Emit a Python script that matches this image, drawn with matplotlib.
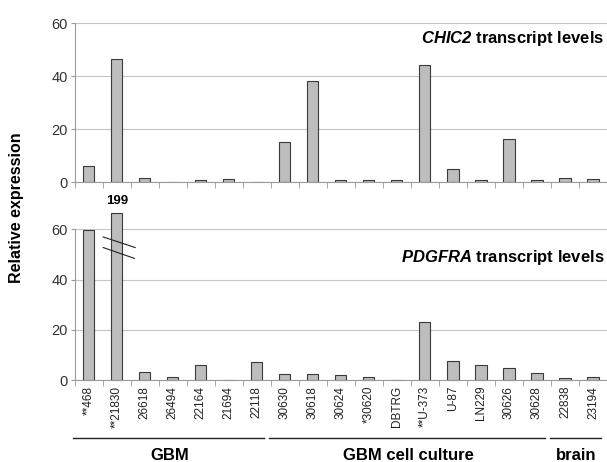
import matplotlib
matplotlib.use("Agg")
import matplotlib.pyplot as plt
import numpy as np

plt.rcParams['font.family'] = ['Liberation Sans', 'DejaVu Sans']
plt.rcParams['mathtext.fontset'] = 'custom'
plt.rcParams['mathtext.rm'] = 'Liberation Sans'
plt.rcParams['mathtext.bf'] = 'Liberation Sans:bold'
plt.rcParams['mathtext.bfit'] = 'Liberation Sans:italic:bold'

# sample names, left to right
samples = ['**468', '**21830', '26618', '26494', '22164', '21694', '22118',
           '30630', '30618', '30624', '*30620', 'DBTRG', '**U-373', 'U-87',
           'LN229', '30626', '30628', '22838', '23194']

# relative expression
chic2 = [6.2, 46.6, 1.6, 0, 0.8, 1.3, 0, 15.3, 38.0, 0.8, 0.8, 0.8,
         44.3, 5.0, 0.8, 16.2, 0.8, 1.5, 1.3]
pdgfra = [59.5, 199, 3.3, 1.3, 6.2, 0, 7.1, 2.5, 2.5, 1.9, 1.3, 0,
          23.1, 7.6, 6.2, 5.0, 3.0, 0.8, 1.4]
pdgfra_cap = 66.6  # the 199 bar is drawn broken at this height

# sample groups: (name, first index, last index)
groups = [('GBM', 0, 6), ('GBM cell culture', 7, 16), ('brain', 17, 18)]

bar_fc = '#bdbdbd'
bar_ec = '#3a3a3a'
grid_c = '#c4c4c4'

fig = plt.figure(figsize=(6.07, 4.62), dpi=100)
ax1 = fig.add_axes([0.123, 0.606, 0.877, 0.344])
ax2 = fig.add_axes([0.123, 0.177, 0.877, 0.327])

x = np.arange(len(samples))


def style_axis(ax):
    ax.set_xlim(-0.5, 18.44)
    ax.set_ylim(0, 60)
    ax.set_yticks([0, 20, 40, 60])
    ax.yaxis.grid(True, color=grid_c, lw=0.8)
    ax.set_axisbelow(True)
    for s in ['top', 'right']:
        ax.spines[s].set_visible(False)
    ax.spines['left'].set_color('#9a9a9a')
    ax.spines['bottom'].set_color('#9a9a9a')
    ax.tick_params(axis='y', length=3, color='#9a9a9a', labelsize=10.5,
                   labelcolor='#333333', pad=2)
    ax.set_xticks(np.arange(-0.5, len(samples), 1.0), minor=True)
    ax.tick_params(axis='x', which='minor', length=4, color='#9a9a9a',
                   direction='out')
    ax.tick_params(axis='x', which='major', length=0)


# top panel: CHIC2
style_axis(ax1)
ax1.bar(x, chic2, width=0.4, color=bar_fc, edgecolor=bar_ec, lw=0.8)
ax1.set_xticks(x)
ax1.set_xticklabels([])
ax1.text(0.995, 0.905, r'$\mathbfit{CHIC2}$ transcript levels',
         transform=ax1.transAxes, ha='right', va='center',
         fontsize=12, fontweight='bold')

# bottom panel: PDGFRA
style_axis(ax2)
heights = [min(v, pdgfra_cap) for v in pdgfra]
ax2.bar(x, heights, width=0.4, color=bar_fc, edgecolor=bar_ec, lw=0.8,
        clip_on=False)
for i, v in enumerate(pdgfra):
    if v > pdgfra_cap:
        ax2.text(i, pdgfra_cap + 2.3, '%d' % v, ha='center', va='bottom',
                 fontsize=9.5, fontweight='bold')
        ax2.plot([i - 0.48, i + 0.66], [56.9, 52.7], color='#222222',
                 lw=0.8, clip_on=False)
        ax2.plot([i - 0.48, i + 0.63], [52.7, 48.4], color='#222222',
                 lw=0.8, clip_on=False)
ax2.set_xticks(x)
ax2.set_xticklabels(samples, rotation=90, fontsize=8.5, color='#222222')
ax2.tick_params(axis='x', which='major', pad=4)
ax2.text(0.995, 0.81, r'$\mathbfit{PDGFRA}$ transcript levels',
         transform=ax2.transAxes, ha='right', va='center',
         fontsize=12, fontweight='bold')

# group brackets under the labels
trans = ax2.get_xaxis_transform()
for name, a, b in groups:
    ax2.plot([a - 0.55, b + 0.27], [-0.38, -0.38], color='#222222', lw=1.0,
             transform=trans, clip_on=False)
    ax2.text((a + b) / 2.0 - 0.1, -0.5, name, transform=trans, ha='center',
             va='center', fontsize=12, fontweight='bold')

fig.text(0.028, 0.55, 'Relative expression', rotation=90, ha='center',
         va='center', fontsize=11.5, fontweight='bold')

fig.savefig('out.png', dpi=100)
